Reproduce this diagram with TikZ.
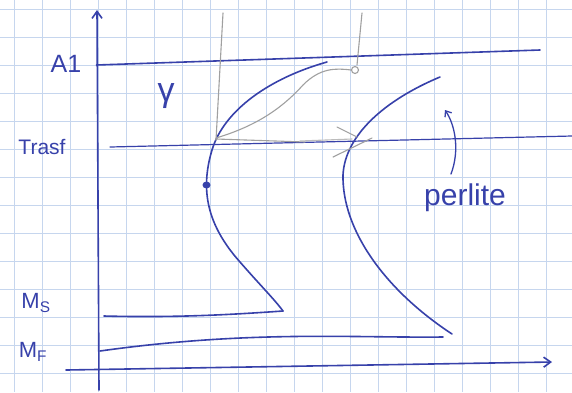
\documentclass[tikz,border=0pt]{standalone}
\usepackage{fontspec}
\setmainfont{Liberation Sans}
\usetikzlibrary{arrows.meta}
\definecolor{ink}   {RGB}{ 55, 65,170}
\definecolor{pencil}{RGB}{160,160,160}
\definecolor{gridb} {RGB}{198,214,238}
\tikzset{
  % blue pen stroke
  Pen/.style={draw=ink,line width=1.6pt,line cap=round,line join=round},
  % grey pencil stroke
  Pnc/.style={draw=pencil,line width=1.1pt,line cap=round,line join=round},
  % hand written label
  Lbl/.style={text=ink,inner sep=1pt,font=\fontsize{#1}{#1}\selectfont},
  Lbl/.default=24,
  % arrows
  Arr/.style={Pen,-{Straight Barb[length=7pt,width=10pt]}},
  SArr/.style={Pen,line width=1.3pt,-{Straight Barb[length=5pt,width=8pt]}},
}
\begin{document}
\begin{tikzpicture}[x=1pt,y=-1pt]
  \useasboundingbox (0,0) rectangle (572,392);
  % squared paper
  \fill[white] (0,0) rectangle (572,392);
  \foreach \gx in {14,42,...,572}
    \draw[gridb,line width=0.8pt] (\gx,0) -- (\gx,392);
  \foreach \gy in {9,37,...,392}
    \draw[gridb,line width=0.8pt] (0,\gy) -- (572,\gy);
  % Axes
  \coordinate (ybot) at (99,390);
  \coordinate (ytop) at (97,10);
  \coordinate (xlft) at (66,370);
  \coordinate (xrgt) at (552,362);
  \draw[Arr] (ybot) -- (ytop);
  \draw[Arr] (xlft) -- (xrgt);
  % Temperature levels
  \node[Lbl=25] (a1) at (66,64) {A1};
  \node[Lbl=21] (tr) at (42,147) {Trasf};
  \node[Lbl=22] (ms) at (36,303) {M\textsubscript{S}};
  \node[Lbl=22] (mf) at (33,352) {M\textsubscript{F}};
  \coordinate (a1r) at (540,50);
  \coordinate (trl) at (110,147);
  \coordinate (trr) at (572,136);
  \coordinate (msl) at (104,316);
  \coordinate (msr) at (283,311);
  \coordinate (mfl) at (100,351);
  \coordinate (mfr) at (443,337);
  \draw[Pen] (a1.east) ++(14,1) -- (a1r);
  \draw[Pen,line width=1.2pt] (trl) -- (trr);
  \draw[Pen] (msl) .. controls (180,318) and (240,314) .. (msr);
  \draw[Pen] (mfl) .. controls (250,330) and (350,338) .. (mfr);
  % Phase label
  \node[Lbl=34] (gam) at (166,96) {γ};
  % Start curve
  \draw[Pen] (327,62) .. controls (270,78) and (224,110) .. (212,150)
             .. controls (200,190) and (207,225) .. (240,262)
             .. controls (260,285) and (275,300) .. (msr);
  \fill[ink] (206.5,185) ellipse (4pt and 3.5pt);
  % End curve
  \draw[Pen] (440,77) .. controls (385,100) and (345,135) .. (343,175)
             .. controls (342,230) and (385,290) .. (452,334);
  % Pencil sketch
  \draw[Pnc] (223,13) -- (216,140);
  \draw[Pnc] (362,13) -- (357,65);
  \draw[Pnc] (216,139) -- (305,142);
  \draw[Pnc,pencil!70] (300,141) -- (352,139);
  \draw[Pnc] (216,138) .. controls (260,125) and (285,105) .. (303,85)
             .. controls (320,68) and (335,68) .. (351,70);
  \draw[Pnc,fill=white] (355,70) circle (3.5pt);
  \draw[Pnc] (337,127) -- (357,137);
  \draw[Pnc] (333,157) -- (372,138);
  % Perlite note
  \node[Lbl=30] (per) at (465,198) {perlite};
  \draw[SArr] (451,174) .. controls (460,150) and (455,125) .. (445,110);
\end{tikzpicture}
\end{document}
